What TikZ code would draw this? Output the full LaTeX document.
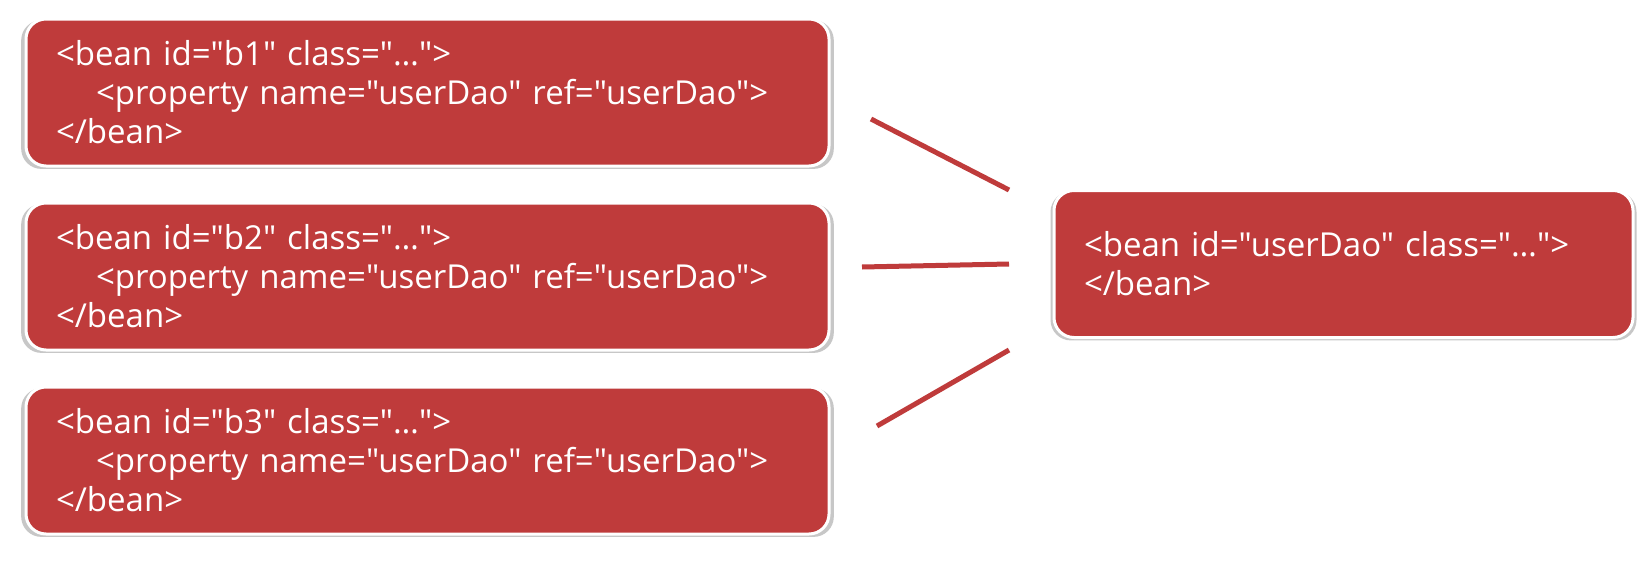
\documentclass[tikz,border=0pt]{standalone}
\usepackage{fontspec}
\setmainfont{Open Sans}[Ligatures=TeXOff]
\usepackage{tikz}
\usetikzlibrary{positioning, shadows}
\definecolor{beanred}{HTML}{BF3B3B}
\tikzset{
    bean/.style={rectangle, rounded corners=20pt, draw=white, line width=3pt, fill=beanred, text=white, align=left, inner xsep=30pt, minimum height=147pt, font=\fontsize{33}{39}\selectfont, drop shadow={shadow xshift=0pt, shadow yshift=-2pt, shadow scale=1.012, opacity=0.4, fill=black!55}},
    link/.style={line width=5pt, draw=beanred}
}

\begin{document}
\begin{tikzpicture}[x=1pt, y=-1pt]
    \useasboundingbox[fill=white] (0,0) rectangle (1652,570);
    \node (b1) [bean, text width=743pt] at (427.5,92.5) {<bean id="b1" class="…">\\\hspace*{40pt}<property name="userDao" ref="userDao">\\</bean>};
    \node (b2) [bean, text width=743pt] at (427.5,276.5) {<bean id="b2" class="…">\\\hspace*{40pt}<property name="userDao" ref="userDao">\\</bean>};
    \node (b3) [bean, text width=743pt] at (427.5,460.5) {<bean id="b3" class="…">\\\hspace*{40pt}<property name="userDao" ref="userDao">\\</bean>};
    \node (dao) [bean, text width=519pt] at (1343.5,264) {<bean id="userDao" class="…">\\</bean>};

    \coordinate (l1a) at (871,119);
    \coordinate (l1b) at (1009,190);
    \coordinate (l2a) at (862,267);
    \coordinate (l2b) at (1009,264);
    \coordinate (l3a) at (877,426);
    \coordinate (l3b) at (1009,350);

    \draw [link] (l1a) -- (l1b);
    \draw [link] (l2a) -- (l2b);
    \draw [link] (l3a) -- (l3b);
\end{tikzpicture}
\end{document}
